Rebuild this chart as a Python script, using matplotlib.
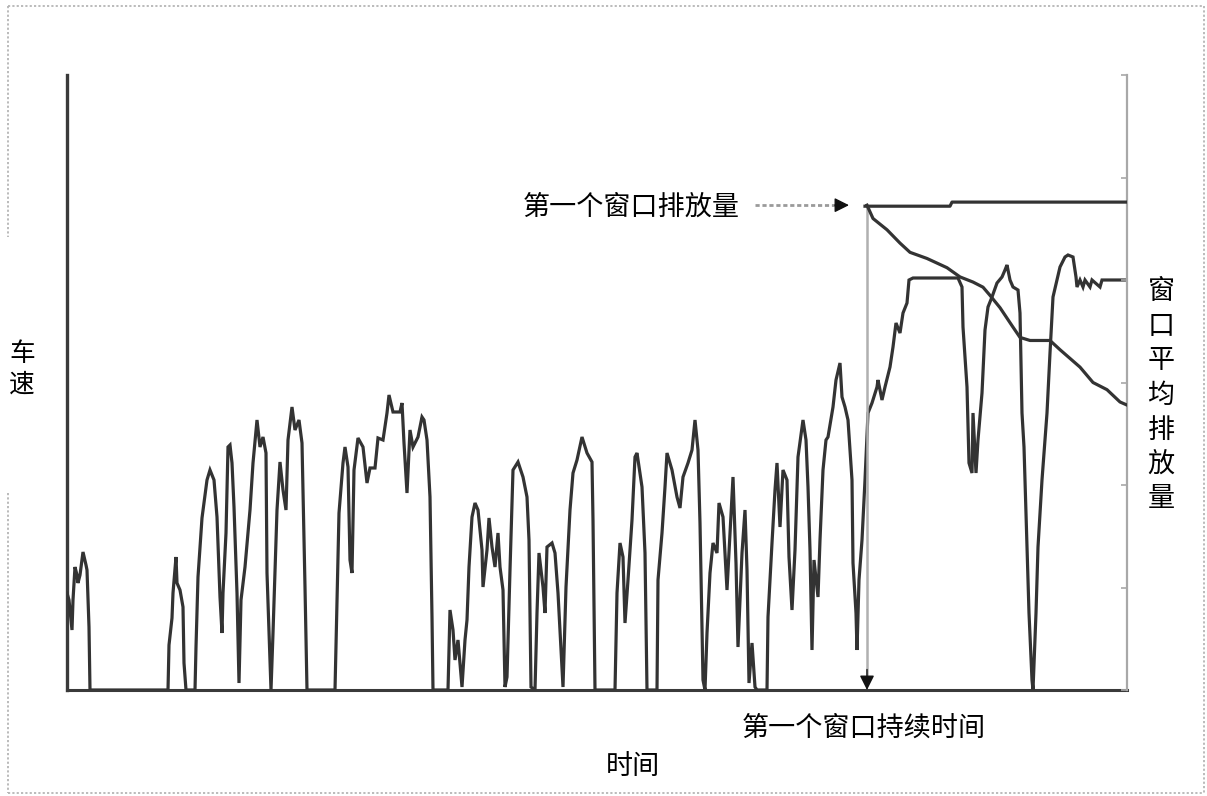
import matplotlib
matplotlib.use("Agg")
import matplotlib.pyplot as plt
from matplotlib.lines import Line2D

plt.rcParams['font.family'] = ['Noto Sans CJK SC', 'DejaVu Sans']

# ---- vehicle speed trace: time (s) and speed (km/h) ----
time_s = [
    0, 2, 5, 6, 8, 10, 11, 13, 16, 19, 20, 22, 23,
    101, 102, 105, 106, 109, 110, 113, 116, 117, 119,
    128, 129, 131, 135, 140, 143, 147, 150, 153, 155, 156, 159, 161, 163, 165, 167, 170, 172,
    174, 178, 183, 186, 190, 193, 196, 199, 200, 202, 204,
    206, 210, 213, 216, 219, 221, 225, 228, 232, 235, 238, 240,
    268, 270, 272, 276, 278, 281, 283, 285, 287, 291, 296, 300, 303, 308, 311, 316, 320, 322,
    326, 333, 335, 337, 340, 343, 346, 351, 355, 357, 360, 363, 365, 366,
    381, 383, 386, 388, 391, 395, 398, 400, 402, 405, 408, 411, 415, 416, 420, 422, 425, 428,
    431, 433, 436, 438, 440, 443, 446, 451, 456, 460, 462, 464,
    468, 470, 472, 476, 478, 480, 485, 488, 491, 495, 496,
    499, 503, 506, 510, 515, 520, 525, 526, 528,
    548, 550, 553, 556, 558, 561, 565, 568, 570, 575, 578, 580,
    590, 591, 595, 598, 600, 605, 610, 613, 616, 621, 625, 628, 631, 633, 636, 638,
    640, 643, 646, 650, 652, 656, 660, 663, 666, 669, 671, 675, 678, 680, 682, 685, 688, 690,
    700, 701, 705, 708, 710, 713, 716, 720, 722, 725, 728, 731, 735, 736, 739, 741, 743, 745,
    747, 751, 753, 756, 759, 761, 766, 769, 773, 775, 778, 781, 785, 786, 789, 790,
    792, 795, 798, 801, 805, 810, 811, 815, 818, 823, 826, 829, 833, 836, 840, 842, 846,
    891, 895, 896, 900, 902, 905, 906, 909, 911, 915, 918, 921, 925, 930, 935, 938, 940,
    943, 946, 951, 953, 955, 957, 960, 962, 965, 966,
    969, 971, 975, 980, 983, 986, 990, 993, 998, 1001, 1006, 1009, 1010, 1013,
    1016, 1018, 1023, 1025, 1033, 1035, 1060,
]
speed_kmh = [
    19.4, 18, 12, 18, 24.6, 23, 21.4, 23, 27.6, 25, 24, 12.6, 0,
    0, 9, 14.4, 19.4, 26.6, 21.4, 20, 16.6, 5.4, 0,
    0, 8.6, 22.6, 34.4, 42, 44, 42, 34.6, 18.6, 11.4, 19.4, 31.4, 48.6, 49, 45.4, 36.6, 19.4, 1.4,
    18, 24.6, 36, 45.4, 54, 48.6, 50.6, 47.4, 23.4, 11.4, 0,
    11.4, 36, 45.6, 40, 36, 50, 56.6, 52, 54, 49.4, 20.6, 0,
    0, 18, 35.4, 45.4, 48.6, 44.6, 26, 23.4, 44, 50.4, 48.6, 41.4, 44.4, 44.4, 50.4, 50, 55.4, 59,
    55.6, 55.6, 57.4, 49.4, 39.4, 52, 48.6, 50.6, 54.6, 54, 50, 38.6, 14.6, 0,
    0, 16, 12, 6, 10, 0.6, 10, 14, 24.6, 34.6, 37.4, 36, 28, 20.6, 28, 34.4, 28.6, 24.6,
    31.4, 24.6, 20, 0.6, 2.6, 24, 44, 45.6, 42.6, 38.6, 30, 0.6,
    0, 15.4, 27.4, 20.6, 15.4, 28.6, 29.4, 27.4, 19.4, 4.6, 0.6,
    20.6, 36, 43.4, 46, 50.6, 47.4, 45.6, 34, 0,
    0, 19.4, 29.4, 26.6, 13.4, 22, 34, 46.6, 47.4, 40.6, 27.4, 0,
    0, 22, 31.4, 40.6, 47.4, 44, 38.6, 36.4, 42.6, 45.4, 48, 54, 48, 33.4, 2, 0,
    11.4, 23.4, 29.4, 27.4, 37.4, 34.6, 20, 31.4, 42.6, 25.4, 8.6, 27.4, 36, 24, 1.4, 9.4, 0.6, 0,
    0, 14.6, 29.4, 40, 45.4, 32.6, 44, 42, 26.6, 16, 28, 46.6, 52.6, 54, 50, 40.6, 28, 8,
    26, 18.6, 30, 44, 50, 50.6, 56.6, 62, 65.4, 58.6, 56.6, 54, 42, 25.4, 15.4, 8,
    22, 30, 42, 55.4, 57.4, 60.6, 62, 58, 60.6, 64.6, 68.6, 73.4, 71.4, 75.4, 77.4, 82, 82.4,
    82.4, 80.6, 72.6, 60.6, 45.4, 43.4, 55.4, 43.4, 50, 59.4, 72, 76.6, 78.6, 81.4, 82.6, 84, 85,
    82, 80.6, 80, 75.4, 55.4, 48.6, 28.6, 15.4, 2, 0,
    15.4, 28.6, 42, 55.4, 67.4, 78.6, 82, 84.6, 86.6, 87, 86.6, 82.6, 80.6, 82,
    80.6, 82, 80.6, 82, 80.6, 82, 82,
]

# ---- emissions of the first window (right axis) ----
window_end_s = 800
first_window_t = [798, 883, 885, 1060]
first_window_emission = [4.72, 4.72, 4.76, 4.76]

# ---- moving-window average emission (right axis) ----
avg_t = [800, 806, 820, 833, 843, 860, 880, 893, 906, 916, 923, 933, 946, 953,
         963, 983, 993, 1013, 1026, 1040, 1053, 1060]
avg_emission = [4.73, 4.60, 4.49, 4.36, 4.27, 4.21, 4.12, 4.03, 3.98, 3.93, 3.85,
                3.73, 3.54, 3.44, 3.41, 3.41, 3.32, 3.15, 3.00, 2.93, 2.81, 2.78]

W, H = 1207, 796
fig = plt.figure(figsize=(W / 100, H / 100), dpi=100)
fig.patch.set_facecolor('white')

L, R, B, T = 67, 1127, 690, 75
ax = fig.add_axes([L / W, 1 - B / H, (R - L) / W, (B - T) / H])
ax.set_xlim(0, 1060)
ax.set_ylim(0, 123)
ax.plot(time_s, speed_kmh, color='#333333', lw=2.3, solid_joinstyle='miter', zorder=3)
for side in ('top', 'right'):
    ax.spines[side].set_visible(False)
ax.spines['left'].set_color('#3a3a3a')
ax.spines['left'].set_linewidth(2.4)
ax.spines['bottom'].set_color('#3a3a3a')
ax.spines['bottom'].set_linewidth(2.2)
ax.set_xticks([])
ax.set_yticks([])
ax.patch.set_alpha(0)

ax2 = ax.twinx()
ax2.set_ylim(0, 6)
ax2.set_xlim(0, 1060)
for side in ('top', 'left', 'bottom'):
    ax2.spines[side].set_visible(False)
ax2.spines['right'].set_color('#a8a8a8')
ax2.spines['right'].set_linewidth(1.6)
ax2.set_yticks(range(0, 7))
ax2.set_yticklabels([])
ax2.tick_params(axis='y', direction='in', length=4, width=1.2, color='#a8a8a8')
ax2.set_xticks([])

ax2.plot(first_window_t, first_window_emission, color='#333333', lw=2.3, zorder=4)
ax2.plot(avg_t, avg_emission, color='#333333', lw=2.3, zorder=4)

# vertical marker for the first window duration
ax2.plot([window_end_s, window_end_s], [first_window_emission[0], 0.12],
         color='#b0b0b0', lw=1.8, zorder=2)
ax2.annotate('', xy=(window_end_s, 0.0), xytext=(window_end_s, 0.2),
             arrowprops=dict(arrowstyle='-|>', color='#111111', lw=1.0,
                             mutation_scale=22, shrinkA=0, shrinkB=0))

# arrow from the emission label to the start of the window line
ax2.plot([688, 770], [4.73, 4.73], color='#9a9a9a', lw=2.0, ls=(0, (1.5, 1)))
ax2.annotate('', xy=(782, 4.73), xytext=(768, 4.73),
             arrowprops=dict(arrowstyle='-|>', color='#111111', lw=1.0,
                             mutation_scale=22, shrinkA=0, shrinkB=0))

def ftext(x, y, s, **kw):
    fig.text(x / W, 1 - y / H, s, fontsize=kw.pop('fontsize', 19.5),
             ha=kw.pop('ha', 'center'), va=kw.pop('va', 'center'), color='black', **kw)

ftext(740, 207, '第一个窗口排放量', ha='right')
ftext(864, 728, '第一个窗口持续时间')
ftext(633, 766, '时间')
for i, ch in enumerate('车速'):
    ftext(22, 354 + i * 31, ch, fontsize=18.5)
for i, ch in enumerate('窗口平均排放量'):
    ftext(1161, 292 + i * 34.5, ch)

# dotted outer frame
frame = dict(color='#b5b5b5', lw=1.3, ls=(0, (1.2, 1.2)))
def fline(xs, ys):
    fig.add_artist(Line2D([x / W for x in xs], [1 - y / H for y in ys], **frame))
fline([8, 1204], [6, 6])
fline([1204, 1204], [6, 793])
fline([8, 1204], [793, 793])
fline([8, 8], [6, 237])
fline([8, 8], [493, 793])

fig.savefig('out.png', dpi=100, facecolor='white')
